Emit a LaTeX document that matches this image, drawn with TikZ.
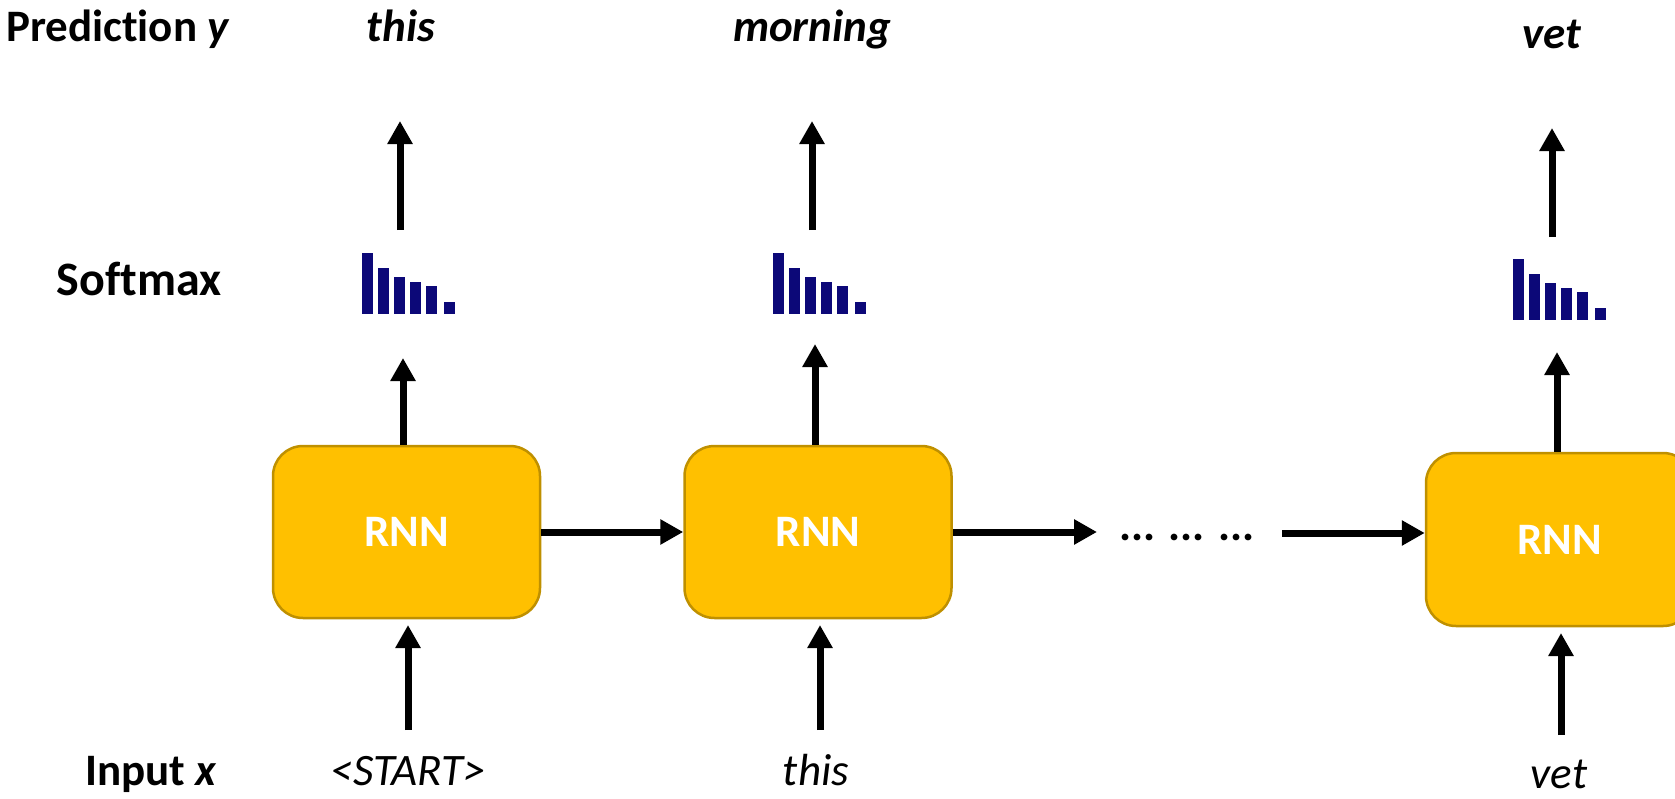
\documentclass[tikz,border=0pt]{standalone}
\usepackage{fontspec}
\setmainfont{Carlito}[Ligatures=NoCommon]
\usetikzlibrary{arrows.meta}
\definecolor{rnnfill}{RGB}{255,192,0}
\definecolor{rnnedge}{RGB}{191,144,0}
\definecolor{barblue}{RGB}{12,8,120}
\newcommand{\bigfont}{\fontsize{45}{54}\selectfont}
\newcommand{\softbars}[1]{%
	\foreach \bx/\bh in {0/61,16/46,32/37,48/32,64/28,82/12}
		\fill [barblue] ([xshift=\bx pt]#1) rectangle ++(11,\bh);}

\begin{document}
\begin{tikzpicture}[x=1pt,y=1pt]
	\tikzstyle{every node}+=[inner sep=0pt, font=\bigfont]
	\tikzstyle{rnn}=[draw=rnnedge, fill=rnnfill, line width=2.5pt, rounded corners=30pt, minimum width=267pt, minimum height=172pt, text=white, font=\bigfont\bfseries]
	\tikzstyle{arr}=[line width=7pt, -{Triangle[length=23pt,width=24pt]}]
	\tikzstyle{lbl}=[anchor=base, font=\bigfont\bfseries]
	\tikzstyle{pred}=[anchor=base, font=\bigfont\bfseries\itshape]
	\tikzstyle{inp}=[anchor=base, font=\bigfont\itshape]
	\clip (0,0) rectangle (1675,-798);
	\node [lbl] (lpred) at (118,-41) {Prediction \textit{y}};
	\node [lbl, font=\fontsize{48}{56}\selectfont\bfseries] (lsoft) at (139,-295) {Softmax};
	\node [lbl] (linput) at (151,-785) {Input \textit{x}};
	\node [pred] (p1) at (401,-41) {this};
	\node [pred] (p2) at (812,-41) {morning};
	\node [pred] (p3) at (1552,-48) {vet};
	\node [inp] (x1) at (408,-785) {<START>};
	\node [inp] (x2) at (816,-785) {this};
	\node [inp] (x3) at (1559,-788) {vet};
	\node [rnn] (r1) at (406.5,-532) {RNN};
	\node [rnn] (r2) at (818,-532) {RNN};
	\node [rnn, minimum height=173pt] (r3) at (1559.5,-539.5) {RNN};
	\node [lbl] (dots) at (1187,-540) {... ... ...};
	\coordinate (s1) at (362,-314);
	\coordinate (s2) at (773,-314);
	\coordinate (s3) at (1513,-320);
	\softbars{s1}
	\softbars{s2}
	\softbars{s3}
	\coordinate (u1) at (403,-358);
	\coordinate (u2) at (815,-344);
	\coordinate (u3) at (1557,-352);
	\draw [arr] (r1.north -| u1) -- (u1);
	\draw [arr] (r2.north -| u2) -- (u2);
	\draw [arr] (r3.north -| u3) -- (u3);
	\coordinate (v1a) at (400,-230);
	\coordinate (v1b) at (400,-121);
	\coordinate (v2a) at (812,-230);
	\coordinate (v2b) at (812,-121);
	\coordinate (v3a) at (1552,-237);
	\coordinate (v3b) at (1552,-128);
	\draw [arr] (v1a) -- (v1b);
	\draw [arr] (v2a) -- (v2b);
	\draw [arr] (v3a) -- (v3b);
	\coordinate (w1a) at (408,-730);
	\coordinate (w1b) at (408,-625);
	\coordinate (w2a) at (820,-730);
	\coordinate (w2b) at (820,-625);
	\coordinate (w3a) at (1561,-735);
	\coordinate (w3b) at (1561,-633);
	\draw [arr] (w1a) -- (w1b);
	\draw [arr] (w2a) -- (w2b);
	\draw [arr] (w3a) -- (w3b);
	\coordinate (d1) at (1097,-532);
	\coordinate (d2) at (1282,-533);
	\draw [arr] (r1) -- (r2);
	\draw [arr] (r2) -- (d1);
	\draw [arr] (d2) -- (r3.west |- d2);
\end{tikzpicture}
\end{document}
